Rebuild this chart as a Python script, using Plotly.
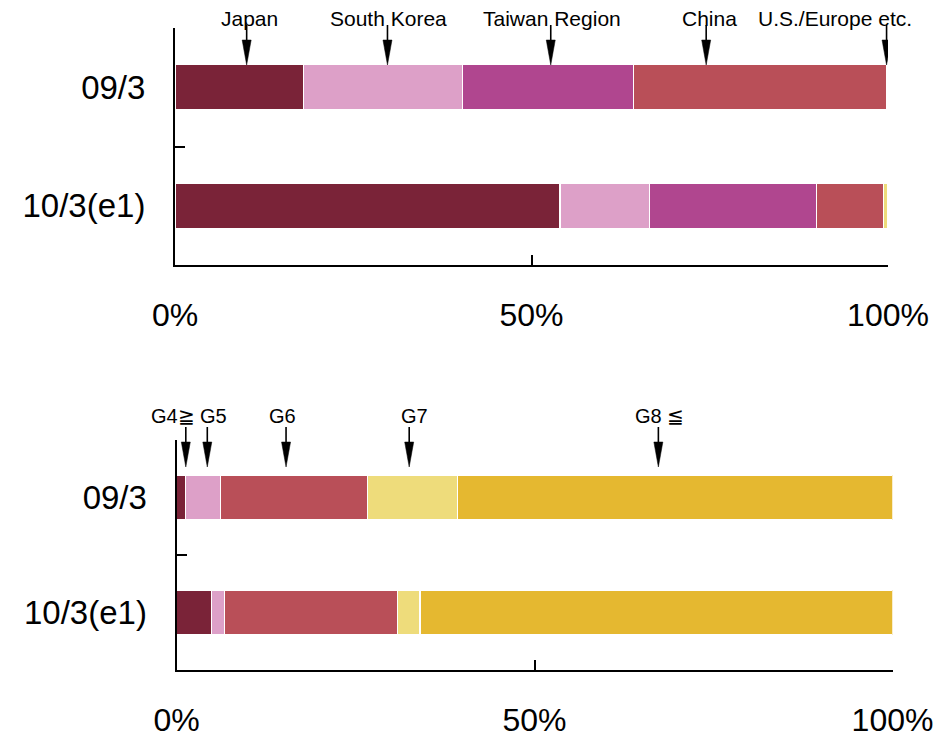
import plotly.graph_objects as go

W, H = 950, 734
FONT = "Liberation Sans, Arial, sans-serif"

# ---------------- data ----------------
periods = ["09/3", "10/3(e1)"]

region_names = ["Japan", "South Korea", "Taiwan Region", "China", "U.S./Europe etc."]
japan = [18.0, 54.0]
south_korea = [22.3, 12.5]
taiwan = [24.0, 23.5]
china = [35.5, 9.4]
us_europe = [0.2, 0.6]
region_colors = ["#7a2338", "#dda0c8", "#b0468f", "#b94f58", "#eedc7b"]
region_label_x = [10.5, 30.0, 52.9, 74.9, 92.6]
region_arrow_x = [10.05, 29.8, 52.7, 74.5, 99.8]

gen_names = ["G4≧", "G5", "G6", "G7", "G8 ≦"]
g4 = [1.3, 4.9]
g5 = [4.8, 1.8]
g6 = [20.6, 24.2]
g7 = [12.5, 3.1]
g8 = [60.8, 66.0]
gen_colors = ["#7a2338", "#dda0c8", "#b94f58", "#eedc7b", "#e5b830"]
gen_label_x = [-0.5, 5.2, 14.8, 33.3, 67.4]
gen_arrow_x = [1.3, 4.3, 15.3, 32.5, 67.3]

tick_vals = [0, 50, 100]
tick_text = ["0%", "50%", "100%"]

# ---------------- layout geometry (pixels) ----------------
def py(p):
    return 1 - p / H

top_x = (175, 888)
top_y = (28, 265)
bot_x = (176.5, 892.5)
bot_y = (440, 670)

fig = go.Figure()

region_series = [japan, south_korea, taiwan, china, us_europe]
for name, vals, col in zip(region_names, region_series, region_colors):
    fig.add_trace(go.Bar(
        x=vals, y=periods, orientation="h", name=name,
        marker=dict(color=col, line=dict(color="white", width=1.2)),
        width=0.38, xaxis="x", yaxis="y", showlegend=False,
    ))

gen_series = [g4, g5, g6, g7, g8]
for name, vals, col in zip(gen_names, gen_series, gen_colors):
    fig.add_trace(go.Bar(
        x=vals, y=periods, orientation="h", name=name,
        marker=dict(color=col, line=dict(color="white", width=1.2)),
        width=0.39, xaxis="x2", yaxis="y2", showlegend=False,
    ))

xax = dict(range=[0, 100], tickvals=tick_vals, ticktext=tick_text,
           ticks="inside", ticklen=10, tickwidth=2, tickcolor="black",
           showline=True, linecolor="black", linewidth=2, showgrid=False,
           zeroline=False, tickfont=dict(family=FONT, size=32, color="black"),
           ticklabelstandoff=21, automargin=False, fixedrange=True)
yax = dict(type="category", categoryorder="array", categoryarray=periods,
           range=[1.5, -0.5], tickson="boundaries", ticks="inside", ticklen=10,
           tickwidth=2, tickcolor="black", showline=True, linecolor="black",
           linewidth=2, showgrid=False, zeroline=False,
           tickfont=dict(family=FONT, size=33, color="black"),
           ticklabelstandoff=21, automargin=False, fixedrange=True)

fig.update_layout(
    width=W, height=H, margin=dict(l=0, r=0, t=0, b=0, autoexpand=False),
    paper_bgcolor="white", plot_bgcolor="white", barmode="stack",
    bargap=0,
    xaxis=dict(xax, domain=[top_x[0] / W, top_x[1] / W], anchor="y"),
    yaxis=dict(yax, domain=[py(top_y[1]), py(top_y[0])], anchor="x"),
    xaxis2=dict(xax, domain=[bot_x[0] / W, bot_x[1] / W], anchor="y2"),
    yaxis2=dict(yax, domain=[py(bot_y[1]), py(bot_y[0])], anchor="x2"),
)

shapes = []
annotations = []

def add_arrows(labels, label_x, arrow_x, xref, xdom, label_y, shaft_top, head_base, tip, fsize):
    unit_px = (xdom[1] - xdom[0]) / 100.0
    half = 4.5 / unit_px
    for lab, lx, ax in zip(labels, label_x, arrow_x):
        annotations.append(dict(
            x=(xdom[0] + lx * unit_px) / W, y=py(label_y), xref="paper", yref="paper",
            text=lab, showarrow=False, xanchor="center", yanchor="middle",
            font=dict(family=FONT, size=fsize, color="black")))
        shapes.append(dict(type="line", xref=xref, yref="paper",
                           x0=ax, x1=ax, y0=py(shaft_top), y1=py(head_base + 2),
                           line=dict(color="black", width=1.6)))
        path = (f"M {ax - half},{py(head_base)} L {ax + half},{py(head_base)} "
                f"L {ax},{py(tip)} Z")
        shapes.append(dict(type="path", xref=xref, yref="paper", path=path,
                           fillcolor="black", line=dict(color="black", width=0.5)))

add_arrows(region_names, region_label_x, region_arrow_x, "x", top_x,
           label_y=19, shaft_top=25, head_base=40, tip=65, fsize=21)
add_arrows(gen_names, gen_label_x, gen_arrow_x, "x2", bot_x,
           label_y=416, shaft_top=427, head_base=442, tip=467, fsize=20)

fig.update_layout(shapes=shapes, annotations=annotations)

fig.write_html(
    "out.html",
    config={"displayModeBar": False, "staticPlot": True},
    post_script="document.body.style.margin='0';document.body.style.overflow='hidden';",
)
